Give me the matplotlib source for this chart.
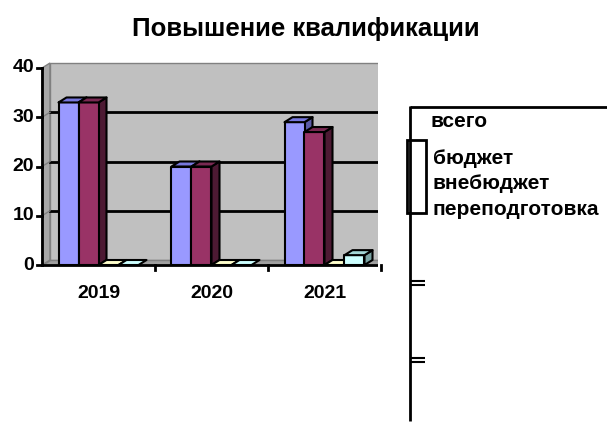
import matplotlib
matplotlib.use("Agg")
import matplotlib.pyplot as plt
from matplotlib.patches import Polygon, Rectangle
from matplotlib.lines import Line2D

years = ["2019", "2020", "2021"]
series_names = ["всего", "бюджет", "внебюджет", "переподготовка"]
vsego = [33, 20, 29]
budget = [33, 20, 27]
vnebudget = [0, 0, 0]
perepodgotovka = [0, 0, 2]
series_values = [vsego, budget, vnebudget, perepodgotovka]
y_ticks = [0, 10, 20, 30, 40]
title = "Повышение квалификации"

front_colors = ["#9999FF", "#993366", "#FFFFCC", "#CCFFFF"]
top_colors = ["#7777DD", "#7A2952", "#CCCCA3", "#A3D6D6"]
side_colors = ["#5C5CA8", "#4D1A33", "#99997A", "#7AA3A3"]

W, H = 607, 428
fig = plt.figure(figsize=(W / 100, H / 100), dpi=100)
plt.rcParams['font.family'] = ['Liberation Sans', 'DejaVu Sans']

# pixel geometry
px_x0, px_y0 = 42, 265      # data origin
px_per_x = 113.0            # pixels per category
px_per_y = 197.0 / 40.0     # pixels per unit
ax_l, ax_r, ax_t, ax_b = 30, 378, 55, 272

ax = fig.add_axes([ax_l / W, 1 - ax_b / H, (ax_r - ax_l) / W, (ax_b - ax_t) / H])
ax.set_xlim((ax_l - px_x0) / px_per_x, (ax_r - px_x0) / px_per_x)
ax.set_ylim((px_y0 - ax_b) / px_per_y, (px_y0 - ax_t) / px_per_y)
ax.axis("off")

dx = 8 / px_per_x
dy = 5 / px_per_y
xmax = 3.2
ymax = y_ticks[-1]

# walls
ax.add_patch(Polygon([(0, 0), (dx, dy), (dx, ymax + dy), (0, ymax)],
                     closed=True, facecolor="#A8A8A8", edgecolor="#808080", lw=1, zorder=1))
ax.add_patch(Polygon([(dx, dy), (xmax, dy), (xmax, ymax + dy), (dx, ymax + dy)],
                     closed=True, facecolor="#C0C0C0", edgecolor="#808080", lw=1, zorder=1))
ax.add_patch(Polygon([(0, 0), (xmax, 0), (xmax, dy), (dx, dy)],
                     closed=True, facecolor="#A0A0A0", edgecolor="#808080", lw=1, zorder=1))
for v in y_ticks[1:-1]:
    ax.plot([dx, xmax], [v + dy, v + dy], color="black", lw=2, zorder=2)
    ax.plot([0, dx], [v, v + dy], color="#808080", lw=1, zorder=2)

# bars
bw = 20 / px_per_x
for g in range(len(years)):
    start = g + 0.5 - 2 * bw
    for s, vals in enumerate(series_values):
        x = start + s * bw
        h = vals[g]
        z = 3 + g * 10 + s
        if h > 0:
            ax.add_patch(Polygon([(x + bw, 0), (x + bw + dx, dy), (x + bw + dx, h + dy), (x + bw, h)],
                                 closed=True, facecolor=side_colors[s], edgecolor="black",
                                 lw=1.5, joinstyle="round", zorder=z))
            ax.add_patch(Rectangle((x, 0), bw, h, facecolor=front_colors[s], edgecolor="black",
                                   lw=1.5, joinstyle="round", zorder=z))
        ax.add_patch(Polygon([(x, h), (x + dx, h + dy), (x + bw + dx, h + dy), (x + bw, h)],
                             closed=True, facecolor=top_colors[s] if h > 0 else front_colors[s],
                             edgecolor="black", lw=1.5, joinstyle="round", zorder=z))

# axes lines
ax.plot([0, 0], [0, ymax], color="black", lw=2, zorder=50, clip_on=False)
ax.plot([0, xmax], [0, 0], color="black", lw=2, zorder=50)
tick_len_x = 5 / px_per_x
tick_len_y = 5 / px_per_y
for v in y_ticks:
    ax.plot([-tick_len_x, 0], [v, v], color="black", lw=2, zorder=50, clip_on=False)
    ax.text(-8 / px_per_x, v, str(v), ha="right", va="center", fontsize=14,
            fontweight="bold", clip_on=False)
for g in range(1, len(years) + 1):
    ax.plot([g, g], [0, -tick_len_y], color="black", lw=2, zorder=50, clip_on=False)
for g, yr in enumerate(years):
    ax.text(g + 0.5, -29 / px_per_y, yr, ha="center", va="center", fontsize=14,
            fontweight="bold", clip_on=False)

# title
fig.text(305.5 / W, 1 - 36 / H, title, ha="center", va="baseline", fontsize=18.5, fontweight="bold")

# legend (partially drawn frame)
def fl(xs, ys, lw=2):
    fig.add_artist(Line2D([x / W for x in xs], [1 - y / H for y in ys], color="black",
                          lw=lw, solid_capstyle="butt"))

fl([410, 607], [107, 107])
fl([410, 410], [106, 421])
fig.add_artist(Rectangle((407 / W, 1 - 213 / H), 19 / W, 73 / H, transform=fig.transFigure,
                         facecolor="none", edgecolor="black", lw=2))
for yy in (281, 285, 358, 362):
    fl([410, 425], [yy, yy], lw=1.5)

leg_pos = [(430, 127), (433, 164), (433, 189), (433, 215)]
for name, (lx, ly) in zip(series_names, leg_pos):
    fig.text(lx / W, 1 - ly / H, name, ha="left", va="baseline", fontsize=15, fontweight="bold")

fig.savefig("out.png", dpi=100, facecolor="white")
